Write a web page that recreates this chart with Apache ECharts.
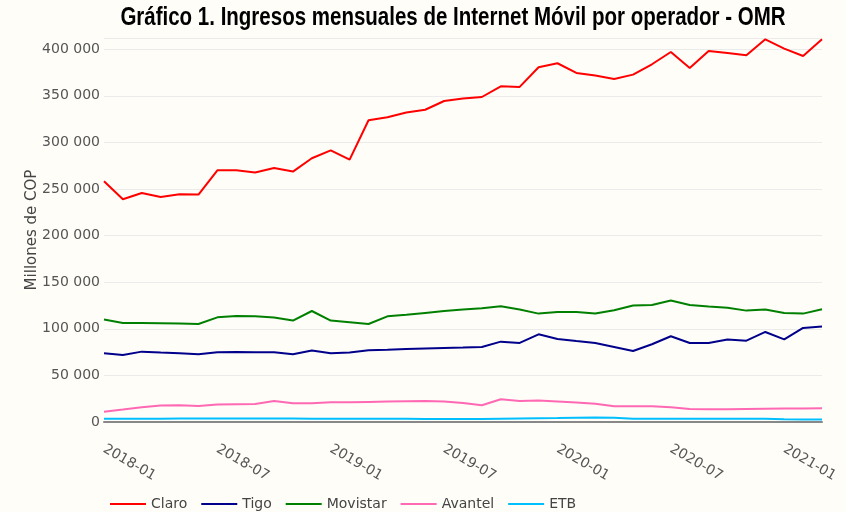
<!DOCTYPE html>
<html>
<head>
<meta charset="utf-8">
<script src="https://cdn.jsdelivr.net/npm/echarts@6/dist/echarts.min.js"></script>
<style>
  html, body { margin: 0; padding: 0; background: #fffdf8; }
  #main { width: 846px; height: 512px; }
</style>
</head>
<body>
<div id="main"></div>
<script>
// meses 2018-01 .. 2021-03
var months = [];
for (var y = 2018; y <= 2021; y++) {
    for (var m = 1; m <= 12; m++) {
        if (y === 2021 && m > 3) break;
        months.push(y + '-' + (m < 10 ? '0' + m : m));
    }
}

// ingresos en millones de COP (miles)
var claro = [258.3, 239.0, 245.7, 241.4, 244.3, 244.0, 270.0, 270.0, 267.6, 272.5,
    268.7, 283.0, 291.5, 281.5, 323.7, 327.0, 332.0, 335.0, 344.4, 347.0,
    348.7, 360.2, 359.5, 380.6, 384.9, 374.5, 371.7, 368.0, 372.7, 383.8,
    397.0, 379.8, 398.0, 396.0, 393.5, 410.6, 400.6, 392.7, 410.6];
var tigo = [73.7, 71.9, 75.5, 74.5, 73.7, 72.6, 74.8, 75.1, 74.8, 74.8,
    72.6, 76.6, 73.7, 74.5, 76.9, 77.5, 78.2, 78.8, 79.3, 79.8,
    80.5, 86.2, 84.8, 94.1, 89.1, 86.9, 84.8, 80.5, 76.2, 83.4,
    92.0, 84.8, 84.8, 88.4, 87.3, 96.6, 88.7, 100.9, 102.4];
var movistar = [109.9, 106.2, 106.2, 105.9, 105.6, 105.2, 112.3, 113.7, 113.4, 112.0,
    108.8, 119.1, 108.8, 107.0, 105.2, 113.4, 115.0, 117.0, 119.0, 120.6,
    122.0, 124.1, 120.6, 116.3, 118.0, 118.0, 116.3, 119.8, 124.9, 125.5,
    130.3, 125.5, 123.8, 122.7, 119.5, 120.6, 117.0, 116.3, 120.9];
var avantel = [11.1, 13.3, 15.8, 17.6, 17.9, 17.2, 18.7, 19.0, 19.3, 22.5,
    20.0, 20.0, 21.1, 21.1, 21.5, 21.9, 22.2, 22.5, 21.9, 20.4,
    17.9, 24.4, 22.5, 23.0, 21.9, 20.8, 19.7, 16.8, 16.8, 16.8,
    15.8, 14.0, 13.6, 13.8, 14.0, 14.2, 14.4, 14.6, 14.8];
var etb = [3.5, 3.5, 3.6, 3.6, 3.7, 3.7, 3.8, 3.8, 3.8, 3.7,
    3.7, 3.6, 3.6, 3.5, 3.5, 3.4, 3.4, 3.3, 3.3, 3.3,
    3.3, 3.6, 3.8, 4.0, 4.2, 4.5, 4.7, 4.6, 3.5, 3.5,
    3.5, 3.5, 3.5, 3.6, 3.6, 3.5, 2.9, 2.8, 2.8];

var names = ['Claro', 'Tigo', 'Movistar', 'Avantel', 'ETB'];
var colors = ['#ff0000', '#00008b', '#008000', '#ff69b4', '#00bfff'];
var values = [claro, tigo, movistar, avantel, etb];

var yTicks = [0, 50000, 100000, 150000, 200000, 250000, 300000, 350000, 400000];

function fmt(v) {
    return String(v).replace(/\B(?=(\d{3})+(?!\d))/g, ' ');
}

var myChart = echarts.init(document.getElementById('main'));

var option = {
    backgroundColor: '#fffdf8',
    animation: false,
    color: colors,
    graphic: [{
        // titulo angosto (no hay Arial Narrow): texto escalado en x
        type: 'text',
        x: 453,
        y: 31,
        scaleX: 0.82,
        style: {
            text: 'Gráfico 1. Ingresos mensuales de Internet Móvil por operador - OMR',
            font: 'bold 25px "Liberation Sans", Arial',
            fill: '#000',
            textAlign: 'center',
            textVerticalAlign: 'bottom'
        }
    }, {
        // titulo del eje y
        type: 'text',
        x: 32,
        y: 230,
        rotation: Math.PI / 2,
        style: {
            text: 'Millones de COP',
            font: '15px "DejaVu Sans"',
            fill: '#444',
            textAlign: 'center',
            textVerticalAlign: 'middle'
        }
    }],
    legend: {
        data: names,
        left: 105,
        top: 492,
        icon: 'rect',
        itemWidth: 36,
        itemHeight: 2,
        itemGap: 14,
        textStyle: { fontFamily: 'DejaVu Sans', fontSize: 14, color: '#444' }
    },
    grid: { left: 104, right: 24, top: 38, bottom: 90 },
    xAxis: {
        type: 'category',
        data: months,
        boundaryGap: false,
        axisLine: { show: true, lineStyle: { color: '#888', width: 2 } },
        axisTick: { show: false },
        splitLine: { show: false },
        axisLabel: {
            interval: 5,
            rotate: -30,
            margin: 26,
            fontFamily: 'DejaVu Sans',
            fontSize: 14,
            color: '#555'
        }
    },
    yAxis: {
        type: 'value',
        min: 0,
        max: 412000,
        interval: 50000,
        axisLine: { show: false },
        axisTick: { show: false },
        splitLine: { lineStyle: { color: '#ebebeb', width: 1 } },
        axisLabel: {
            showMaxLabel: false,
            fontFamily: 'DejaVu Sans',
            fontSize: 14,
            color: '#555',
            margin: 4,
            formatter: function (v) {
                return yTicks.indexOf(v) >= 0 ? fmt(v) : '';
            }
        }
    },
    series: names.map(function (n, i) {
        return {
            name: n,
            type: 'line',
            showSymbol: false,
            symbol: 'none',
            data: values[i].map(function (v) { return Math.round(v * 1000); }),
            lineStyle: { width: 2, color: colors[i] },
            itemStyle: { color: colors[i] }
        };
    })
};

myChart.setOption(option);
</script>
</body>
</html>
